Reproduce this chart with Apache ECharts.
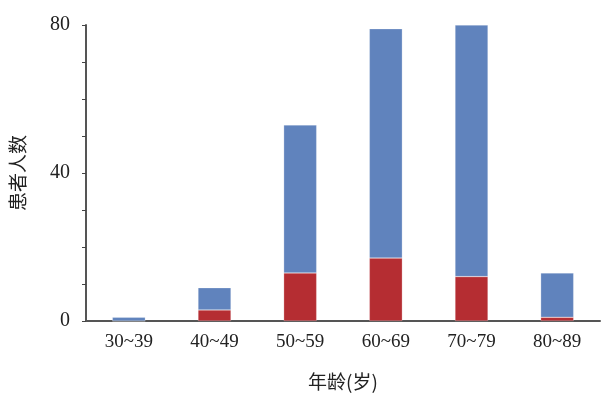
<!DOCTYPE html>
<html>
<head>
    <meta charset="utf-8">
    <script src="https://cdn.jsdelivr.net/npm/echarts@6/dist/echarts.min.js"></script>
</head>
<body style="margin:0">
<div id="echartsMain" style="width: 610px; height: 405px;"></div>
</body>
</html>

<script type="text/javascript">
    // age groups and patient counts
    let ageGroups = ['30~39', '40~49', '50~59', '60~69', '70~79', '80~89']
    let redPart = [0, 3, 13, 17, 12, 1]
    let bluePart = [1, 6, 40, 62, 68, 12]
    let yTickLabels = [0, 40, 80]

    let serif = '"Liberation Serif", "Times New Roman", serif'
    let cjk = '"Noto Sans CJK SC", sans-serif'

    let myChart = echarts.init(document.getElementById('echartsMain'))

    let option = {
        backgroundColor: '#fff',
        animation: false,
        grid: {left: 86, right: 10, top: 25, bottom: 84},
        xAxis: {
            type: 'category',
            data: ageGroups,
            axisLine: {lineStyle: {color: '#555', width: 2}},
            axisTick: {show: false},
            axisLabel: {margin: 12, color: '#222', fontSize: 19, fontFamily: serif},
            name: '年龄(岁)',
            nameLocation: 'middle',
            nameGap: 51,
            nameTextStyle: {color: '#222', fontSize: 19, fontFamily: cjk}
        },
        yAxis: {
            type: 'value',
            min: 0,
            max: 80,
            interval: 10,
            splitLine: {show: false},
            axisLine: {show: true, lineStyle: {color: '#555', width: 2}},
            axisTick: {show: true, length: 4, lineStyle: {color: '#444'}},
            axisLabel: {
                margin: 16,
                color: '#222',
                fontSize: 20,
                fontFamily: serif,
                formatter: function (v) {
                    return yTickLabels.indexOf(v) >= 0 ? String(v) : ''
                }
            },
            name: '患者人数',
            nameLocation: 'middle',
            nameGap: 59,
            nameRotate: 90,
            nameTextStyle: {color: '#222', fontSize: 19, fontFamily: cjk}
        },
        series: [
            {
                name: 'red',
                type: 'bar',
                stack: 'total',
                barWidth: 33,
                data: redPart,
                itemStyle: {color: '#b52d32', borderColor: 'rgba(255,255,255,0.5)', borderWidth: 0.5}
            },
            {
                name: 'blue',
                type: 'bar',
                stack: 'total',
                barWidth: 33,
                data: bluePart,
                itemStyle: {color: '#6083bd', borderColor: 'rgba(255,255,255,0.5)', borderWidth: 0.5}
            }
        ]
    }
    myChart.setOption(option)
</script>
